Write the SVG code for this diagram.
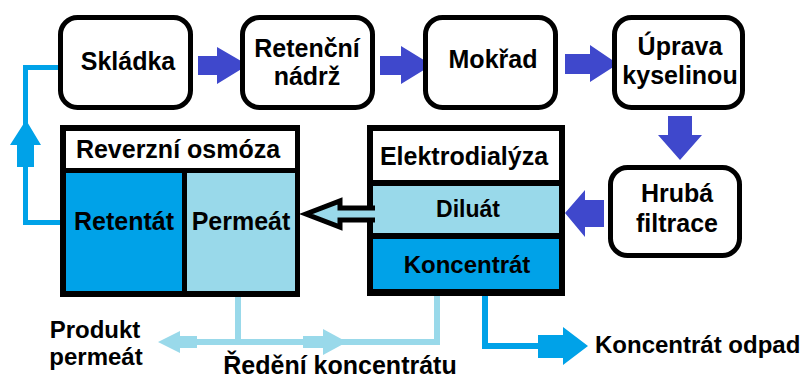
<svg xmlns="http://www.w3.org/2000/svg" width="801" height="379" viewBox="0 0 801 379">
<style>
text{font-family:"Liberation Sans",Arial,sans-serif;font-weight:bold;fill:#000;text-anchor:middle;font-size:25px}
.rbox{fill:#fff;stroke:#000;stroke-width:5}
.ind{fill:#3f48cc}
.tq{fill:#00a2e8}
.ltq{fill:#99d9ea}
.ltqs{fill:none;stroke:#99d9ea;stroke-width:6}
.tqs{fill:none;stroke:#00a2e8;stroke-width:5}
</style>
<rect width="801" height="379" fill="#fff"/>
<g id="connectors">
  <polygon class="ind" points="198,56 217,56 217,47 248,65 217,84 217,75 198,75"/>
  <polygon class="ind" points="380,56 401,56 401,46 432,65 401,84 401,75 380,75"/>
  <polygon class="ind" points="565,54 590,54 590,45 618,64 590,82 590,74 565,74"/>
  <polygon class="ind" points="668,116 692,116 692,135 702,135 680,160 658,135 668,135"/>
  <polygon class="ind" points="604,200 585,200 585,190 565,213 585,237 585,227 604,227"/>
  <path class="tqs" d="M66,222.5 H25.5 V67.5 H60"/>
  <polygon class="tq" points="17,167 17,145 10,145 26,120 41,145 34,145 34,167"/>
  <path class="ltqs" d="M238,296 V342 M180,342 H437 V290"/>
  <polygon class="ltq" points="197,336 180,336 180,331 158,342 180,353 180,348 197,348"/>
  <polygon class="ltq" points="303,336 323,336 323,329 347,342 323,355 323,348 303,348"/>
  <path class="tqs" d="M485,290 V346 H540" style="stroke-width:6"/>
  <polygon class="tq" points="538,335 563,335 563,327 588,346 563,365 563,358 538,358"/>
</g>
<g id="skladka">
  <rect class="rbox" x="60.5" y="17.5" width="130" height="90" rx="17"/>
  <text x="128" y="70">Skládka</text>
</g>
<g id="retencni">
  <rect class="rbox" x="242.5" y="17.5" width="130" height="90" rx="17"/>
  <text x="307" y="57">Retenční</text>
  <text x="307" y="85">nádrž</text>
</g>
<g id="mokrad">
  <rect class="rbox" x="425.5" y="17.5" width="130" height="90" rx="17"/>
  <text x="493" y="68">Mokřad</text>
</g>
<g id="uprava">
  <rect class="rbox" x="614.5" y="17.5" width="128" height="90" rx="17"/>
  <text x="680" y="55">Úprava</text>
  <text x="680" y="84">kyselinou</text>
</g>
<g id="hruba">
  <rect class="rbox" x="610.5" y="167.5" width="129" height="88" rx="17"/>
  <text x="677" y="202">Hrubá</text>
  <text x="677" y="232">filtrace</text>
</g>
<g id="reverzni">
  <rect x="60" y="125" width="240" height="172" fill="#000"/>
  <rect x="66" y="131" width="229" height="37" fill="#fff"/>
  <rect class="tq" x="66" y="173" width="116" height="118"/>
  <rect class="ltq" x="187" y="173" width="108" height="118"/>
  <text x="178" y="158">Reverzní osmóza</text>
  <text x="124" y="230">Retentát</text>
  <text x="241" y="230">Permeát</text>
</g>
<g id="elektrodialyza">
  <rect x="367" y="125" width="198" height="171" fill="#000"/>
  <rect x="373" y="131" width="186" height="49" fill="#fff"/>
  <rect class="ltq" x="373" y="186" width="186" height="47"/>
  <rect class="tq" x="373" y="239" width="186" height="50"/>
  <text x="464" y="165">Elektrodialýza</text>
  <text x="468" y="217" style="font-size:23px">Diluát</text>
  <text x="467" y="273" style="font-size:24px">Koncentrát</text>
</g>
<g id="hollow-arrow">
  <polygon points="306,214 340,201 340,208 376,208 376,220 340,220 340,227" fill="#99d9ea"/>
  <path d="M375,208 H340 V201 L306,214 L340,227 V220 H375" fill="none" stroke="#000" stroke-width="5" stroke-linejoin="miter"/>
</g>
<g id="labels">
  <text x="95" y="338" style="font-size:24px">Produkt</text>
  <text x="96" y="365" style="font-size:24px">permeát</text>
  <text x="340" y="374">Ředění koncentrátu</text>
  <text x="595" y="353" style="font-size:24px;text-anchor:start">Koncentrát odpad</text>
</g>
</svg>
